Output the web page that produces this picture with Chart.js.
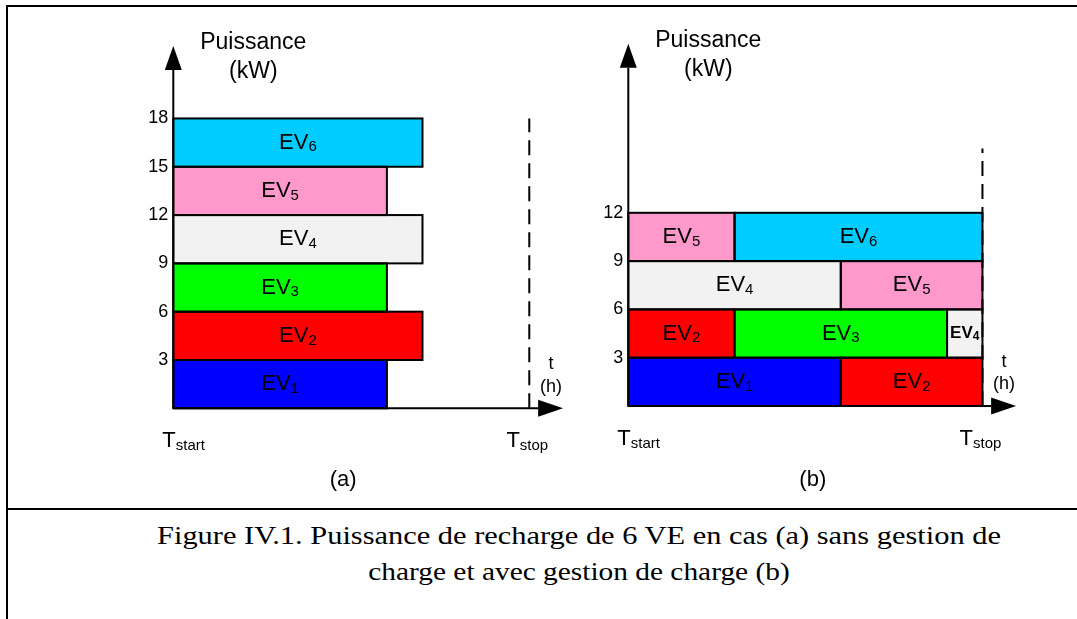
<!DOCTYPE html>
<html>
<head>
<meta charset="utf-8">
<script src="https://cdn.jsdelivr.net/npm/chart.js"></script>
<style>
  html, body { margin: 0; padding: 0; background: #fff; }
  #page { position: relative; width: 1077px; height: 619px; overflow: hidden; }
  .rule { position: absolute; background: #000; }
  canvas { position: absolute; top: 0; }
  #chartA { left: 0; }
  #chartB { left: 580px; }
  .caption {
    position: absolute; left: 79px; width: 1000px; text-align: center;
    font-family: "Liberation Serif", "Times New Roman", serif; font-size: 26px;
    line-height: 36px; color: #000; white-space: nowrap;
    transform: scaleX(1.13);
  }
  .caption.wide { transform: scaleX(1.17); }
</style>
</head>
<body>
<div id="page">
  <div class="rule" style="left:6px; top:5px; width:1071px; height:2px"></div>
  <div class="rule" style="left:6px; top:5px; width:2px; height:614px"></div>
  <div class="rule" style="left:6px; top:508px; width:1071px; height:2px"></div>
  <canvas id="chartA" width="580" height="505"></canvas>
  <canvas id="chartB" width="497" height="505"></canvas>
  <div class="caption wide" style="top:518px">Figure IV.1. Puissance de recharge de 6 VE en cas (a) sans gestion de</div>
  <div class="caption" style="top:554px">charge et avec gestion de charge (b)</div>
</div>
<script>
// colours of EV1 .. EV6
const evColors = ['#0000FF', '#FF0000', '#00FF00', '#F2F2F2', '#FF99CC', '#00CCFF'];
const bandHeight = 3;   // kW taken by one vehicle
const tStop = 10;       // h

// (a) sans gestion de charge
const aVehicle = [1, 2, 3, 4, 5, 6];
const aBand    = [0, 3, 6, 9, 12, 15];
const aStart   = [0, 0, 0, 0, 0, 0];
const aEnd     = [6, 7, 6, 7, 6, 7];
const aTicks   = [3, 6, 9, 12, 15, 18];

// (b) avec gestion de charge
const bVehicle = [1, 2, 2, 3, 4, 4, 5, 5, 6];
const bBand    = [0, 0, 3, 3, 3, 6, 6, 9, 9];
const bStart   = [0, 6, 0, 3, 9, 0, 6, 0, 3];
const bEnd     = [6, 10, 3, 9, 10, 6, 10, 3, 10];
const bTicks   = [3, 6, 9, 12];

const SANS = '"Liberation Sans", Arial, sans-serif';

// "EV" with the vehicle number as subscript, centred in a bar
function drawEv(ctx, num, cx, cy, room) {
  let size = 22, sub = 15, weight = '';
  const measure = () => {
    ctx.font = `${weight}${size}px ${SANS}`;
    const w1 = ctx.measureText('EV').width;
    ctx.font = `${weight}${sub}px ${SANS}`;
    return [w1, ctx.measureText(num).width];
  };
  let [w1, w2] = measure();
  if (w1 + w2 > room - 4) {
    size = 17; sub = 12; weight = 'bold ';
    [w1, w2] = measure();
  }
  const x = cx - (w1 + w2) / 2;
  const base = cy + size * 0.716 / 2 - 1.7;
  ctx.font = `${weight}${size}px ${SANS}`;
  ctx.fillText('EV', x, base);
  ctx.font = `${weight}${sub}px ${SANS}`;
  ctx.fillText(num, x + w1, base + 2.5);
}

// T_start / T_stop style label, x is the left edge
function drawSub(ctx, main, sub, x, y) {
  ctx.font = `22px ${SANS}`;
  const w = ctx.measureText(main).width;
  ctx.fillText(main, x, y);
  ctx.font = `15px ${SANS}`;
  ctx.fillText(sub, x + w, y + 3);
  return w + ctx.measureText(sub).width;
}

const panelDecor = {
  id: 'panelDecor',
  afterDatasetsDraw(chart, args, opts) {
    const ctx = chart.ctx;
    const { top, right } = chart.chartArea;
    const xs = chart.scales.x, ys = chart.scales.y;
    const x0 = xs.getPixelForValue(0), y0 = ys.getPixelForValue(0);
    const xStop = xs.getPixelForValue(tStop);
    const bars = chart.getDatasetMeta(0).data;

    ctx.save();
    ctx.fillStyle = '#000';
    ctx.strokeStyle = '#000';
    ctx.lineWidth = 2;

    // dashed line at T_stop
    ctx.setLineDash([15, 8]);
    ctx.beginPath();
    ctx.moveTo(xStop, y0);
    ctx.lineTo(xStop, ys.getPixelForValue(opts.dashTop));
    ctx.stroke();
    ctx.setLineDash([]);

    // bar outlines and names
    bars.forEach((bar, i) => {
      const p = bar.getProps(['x', 'y', 'base', 'height'], true);
      ctx.strokeRect(p.base, p.y - p.height / 2, p.x - p.base, p.height);
      drawEv(ctx, String(opts.vehicle[i]), (p.x + p.base) / 2, p.y, p.x - p.base);
    });

    // axes with arrow heads
    ctx.beginPath();
    ctx.moveTo(x0, y0); ctx.lineTo(right - 25, y0);
    ctx.moveTo(x0, y0); ctx.lineTo(x0, top + 24);
    ctx.stroke();
    ctx.beginPath();
    ctx.moveTo(x0, top); ctx.lineTo(x0 - 8.5, top + 24); ctx.lineTo(x0 + 8.5, top + 24);
    ctx.closePath(); ctx.fill();
    ctx.beginPath();
    ctx.moveTo(right, y0); ctx.lineTo(right - 25, y0 - 8.5); ctx.lineTo(right - 25, y0 + 8.5);
    ctx.closePath(); ctx.fill();

    // axis titles
    ctx.textAlign = 'center';
    ctx.textBaseline = 'alphabetic';
    ctx.font = `23px ${SANS}`;
    ctx.fillText('Puissance', x0 + 80, top + 3);
    ctx.fillText('(kW)', x0 + 80, top + 32);
    ctx.font = `18px ${SANS}`;
    ctx.fillText('t', right - 12, y0 - 39);
    ctx.fillText('(h)', right - 12, y0 - 16.7);
    ctx.font = `22px ${SANS}`;
    ctx.fillText(opts.tag, xs.getPixelForValue(opts.tagAt), 486);

    ctx.textAlign = 'left';
    drawSub(ctx, 'T', 'start', x0 - 11, y0 + 39);
    ctx.font = `22px ${SANS}`;
    const wT = ctx.measureText('T').width;
    ctx.font = `15px ${SANS}`;
    const wStop = wT + ctx.measureText('stop').width;
    drawSub(ctx, 'T', 'stop', xStop - 2 - wStop / 2, y0 + 39);
    ctx.restore();
  }
};

function makeChart(id, vehicle, band, start, end, ticks, extra) {
  const data = vehicle.map((v, i) => ({ x: [start[i], end[i]], y: band[i] + bandHeight / 2 }));
  return new Chart(document.getElementById(id), {
    type: 'bar',
    data: {
      datasets: [{
        data: data,
        backgroundColor: vehicle.map(v => evColors[v - 1]),
        borderWidth: 0,
        barPercentage: 1,
        categoryPercentage: 1
      }]
    },
    options: {
      indexAxis: 'y',
      responsive: false,
      animation: false,
      devicePixelRatio: 1,
      layout: { padding: extra.padding },
      plugins: {
        legend: { display: false },
        tooltip: { enabled: false },
        panelDecor: { vehicle: vehicle, dashTop: extra.dashTop, tag: extra.tag, tagAt: extra.tagAt }
      },
      scales: {
        x: { type: 'linear', min: 0, max: 10.95, display: false },
        y: {
          type: 'linear', min: 0, max: 22.5, offset: false, position: 'left',
          afterBuildTicks: s => { s.ticks = ticks.map(v => ({ value: v })); },
          afterFit: s => { s.width = 40; },
          grid: { display: false, drawTicks: false, offset: false },
          border: { display: false },
          ticks: { color: '#000', padding: 5, font: { family: SANS, size: 18 } }
        }
      }
    },
    plugins: [panelDecor]
  });
}

makeChart('chartA', aVehicle, aBand, aStart, aEnd, aTicks,
  { padding: { left: 133.3, top: 46, right: 16.9, bottom: 96.7 }, dashTop: 18, tag: '(a)', tagAt: 4.77 });
makeChart('chartB', bVehicle, bBand, bStart, bEnd, bTicks,
  { padding: { left: 8.3, top: 43.75, right: 60.9, bottom: 99 }, dashTop: 16, tag: '(b)', tagAt: 5.21 });
</script>
</body>
</html>
